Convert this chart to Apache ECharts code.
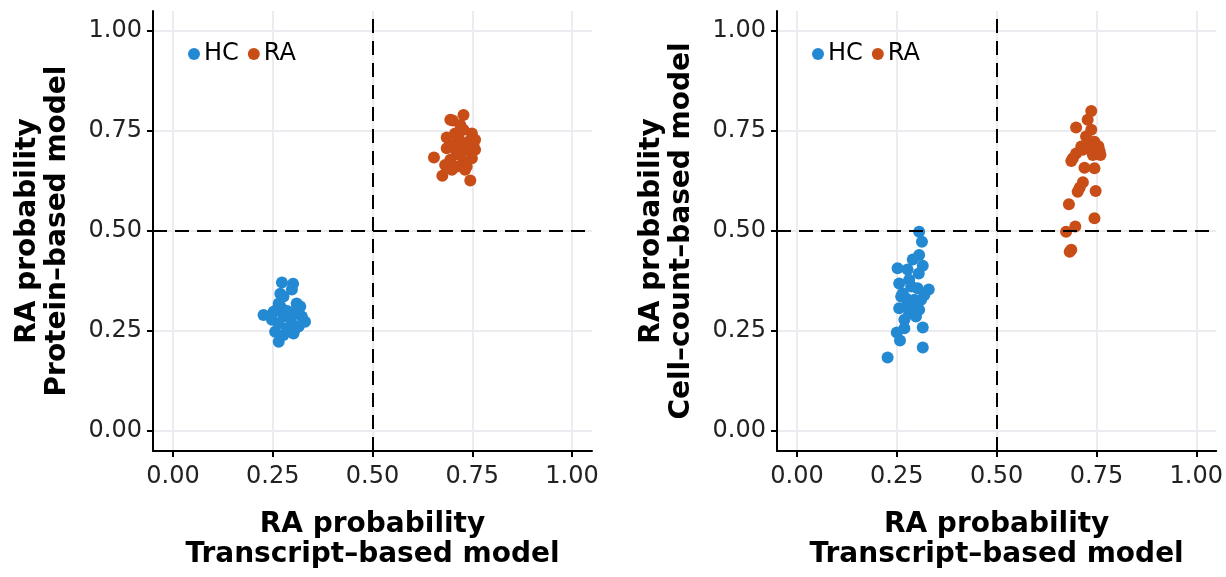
<!DOCTYPE html>
<html>
<head>
<meta charset="utf-8">
<script src="https://cdn.jsdelivr.net/npm/echarts@6/dist/echarts.min.js"></script>
<style>
html, body { margin: 0; background: #fff; }
#chart { width: 1226px; height: 577px; }
</style>
</head>
<body>
<div id="chart"></div>
<script>
// tick positions shared by both panels
var tickValues = [0, 0.25, 0.5, 0.75, 1];
var groups = ['HC', 'RA'];

// left panel: transcript vs protein model
var hcProtein = [
    [0.273, 0.371], [0.301, 0.368], [0.298, 0.354], [0.269, 0.343], [0.277, 0.336],
    [0.265, 0.319], [0.310, 0.319], [0.319, 0.311], [0.252, 0.298], [0.290, 0.298],
    [0.306, 0.294], [0.227, 0.290], [0.277, 0.286], [0.331, 0.273], [0.248, 0.278],
    [0.265, 0.269], [0.298, 0.269], [0.315, 0.261], [0.286, 0.257], [0.256, 0.248],
    [0.302, 0.244], [0.277, 0.240], [0.265, 0.223], [0.323, 0.286], [0.260, 0.303],
    [0.294, 0.282], [0.270, 0.310], [0.306, 0.255], [0.286, 0.300]
];
var raProtein = [
    [0.728, 0.790], [0.701, 0.776], [0.720, 0.765], [0.707, 0.744], [0.749, 0.744],
    [0.757, 0.728], [0.686, 0.734], [0.686, 0.707], [0.720, 0.719], [0.736, 0.703],
    [0.757, 0.703], [0.711, 0.694], [0.654, 0.684], [0.749, 0.682], [0.695, 0.678],
    [0.728, 0.673], [0.682, 0.665], [0.711, 0.661], [0.736, 0.661], [0.699, 0.653],
    [0.732, 0.653], [0.675, 0.638], [0.745, 0.626], [0.728, 0.753], [0.740, 0.723],
    [0.703, 0.715], [0.720, 0.690], [0.753, 0.715], [0.695, 0.778], [0.715, 0.736]
];

// right panel: transcript vs cell-count model
var hcCellCount = [
    [0.306, 0.498], [0.313, 0.473], [0.306, 0.440], [0.290, 0.429], [0.252, 0.407],
    [0.277, 0.404], [0.315, 0.413], [0.305, 0.394], [0.256, 0.369], [0.302, 0.357],
    [0.330, 0.354], [0.265, 0.344], [0.273, 0.332], [0.311, 0.328], [0.256, 0.307],
    [0.290, 0.311], [0.281, 0.294], [0.298, 0.286], [0.269, 0.278], [0.315, 0.259],
    [0.269, 0.257], [0.250, 0.246], [0.258, 0.226], [0.315, 0.209], [0.227, 0.184],
    [0.286, 0.361], [0.294, 0.328], [0.277, 0.315], [0.306, 0.303], [0.261, 0.336],
    [0.319, 0.340], [0.281, 0.378]
];
var raCellCount = [
    [0.737, 0.800], [0.728, 0.778], [0.699, 0.759], [0.737, 0.753], [0.724, 0.736],
    [0.745, 0.723], [0.712, 0.711], [0.733, 0.707], [0.699, 0.694], [0.691, 0.682],
    [0.687, 0.675], [0.720, 0.658], [0.745, 0.657], [0.716, 0.622], [0.708, 0.608],
    [0.703, 0.598], [0.748, 0.600], [0.681, 0.567], [0.745, 0.532], [0.697, 0.511],
    [0.674, 0.498], [0.687, 0.453], [0.683, 0.448], [0.758, 0.700], [0.755, 0.712],
    [0.760, 0.690], [0.729, 0.715], [0.716, 0.703], [0.741, 0.690]
];

var blue = '#2389d3';
var orange = '#c84d16';
var fontReg = 'DejaVu Sans';

function makeXAxis(idx) {
    return {
        type: 'value', gridIndex: idx, min: -0.05, max: 1.05,
        name: 'RA probability\nTranscript\u2013based model',
        nameLocation: 'middle', nameGap: 59,
        nameTextStyle: { fontFamily: fontReg, fontWeight: 'bold', fontSize: 28, lineHeight: 30, color: '#000' },
        axisLine: { show: true, onZero: false, lineStyle: { color: '#000', width: 2 } },
        axisTick: { show: true, length: 6, customValues: tickValues, lineStyle: { color: '#000', width: 2 } },
        axisLabel: {
            customValues: tickValues, margin: 14, fontFamily: fontReg, fontSize: 24, color: '#222',
            formatter: function (v) { return v.toFixed(2); }
        },
        splitLine: { show: true, lineStyle: { color: '#ebebf0', width: 2 } }
    };
}

function makeYAxis(idx, title) {
    return {
        type: 'value', gridIndex: idx, min: -0.05, max: 1.05,
        name: 'RA probability\n' + title,
        nameLocation: 'middle', nameGap: 80, nameRotate: 90,
        nameTextStyle: { fontFamily: fontReg, fontWeight: 'bold', fontSize: 28, lineHeight: 30, color: '#000' },
        axisLine: { show: true, onZero: false, lineStyle: { color: '#000', width: 2 } },
        axisTick: { show: true, length: 6, customValues: tickValues, lineStyle: { color: '#000', width: 2 } },
        axisLabel: {
            customValues: tickValues, margin: 11, fontFamily: fontReg, fontSize: 24, color: '#222',
            formatter: function (v) { return v.toFixed(2); }
        },
        splitLine: { show: true, lineStyle: { color: '#ebebf0', width: 2 } }
    };
}

function scatter(name, idx, data, color) {
    return {
        name: name, type: 'scatter', xAxisIndex: idx, yAxisIndex: idx,
        data: data, symbolSize: 12, z: 3,
        itemStyle: { color: color, opacity: 1 }
    };
}

// dashed reference lines at 0.5, drawn over the points
function refLines(idx) {
    return {
        type: 'line', xAxisIndex: idx, yAxisIndex: idx, data: [], z: 5, silent: true,
        markLine: {
            silent: true, symbol: 'none', z: 5,
            label: { show: false },
            lineStyle: { color: '#000', width: 2, type: [14, 8] },
            data: [{ xAxis: 0.5 }, { yAxis: 0.5 }]
        }
    };
}

function legendAt(left) {
    return {
        data: groups, left: left, top: 42, padding: 0, itemGap: 9,
        icon: 'circle', itemWidth: 12, itemHeight: 12,
        textStyle: { fontFamily: fontReg, fontSize: 24, color: '#000', padding: [0, 0, 0, -1] }
    };
}

var myChart = echarts.init(document.getElementById('chart'));
var option = {
    backgroundColor: '#fff',
    animation: false,
    grid: [
        { left: 153, top: 11, width: 439, height: 440 },
        { left: 777, top: 11, width: 440, height: 440 }
    ],
    xAxis: [makeXAxis(0), makeXAxis(1)],
    yAxis: [makeYAxis(0, 'Protein\u2013based model'), makeYAxis(1, 'Cell\u2013count\u2013based model')],
    legend: [legendAt(188), legendAt(812)],
    series: [
        scatter('HC', 0, hcProtein, blue),
        scatter('RA', 0, raProtein, orange),
        scatter('HC', 1, hcCellCount, blue),
        scatter('RA', 1, raCellCount, orange),
        refLines(0),
        refLines(1)
    ]
};
myChart.setOption(option);
</script>
</body>
</html>
